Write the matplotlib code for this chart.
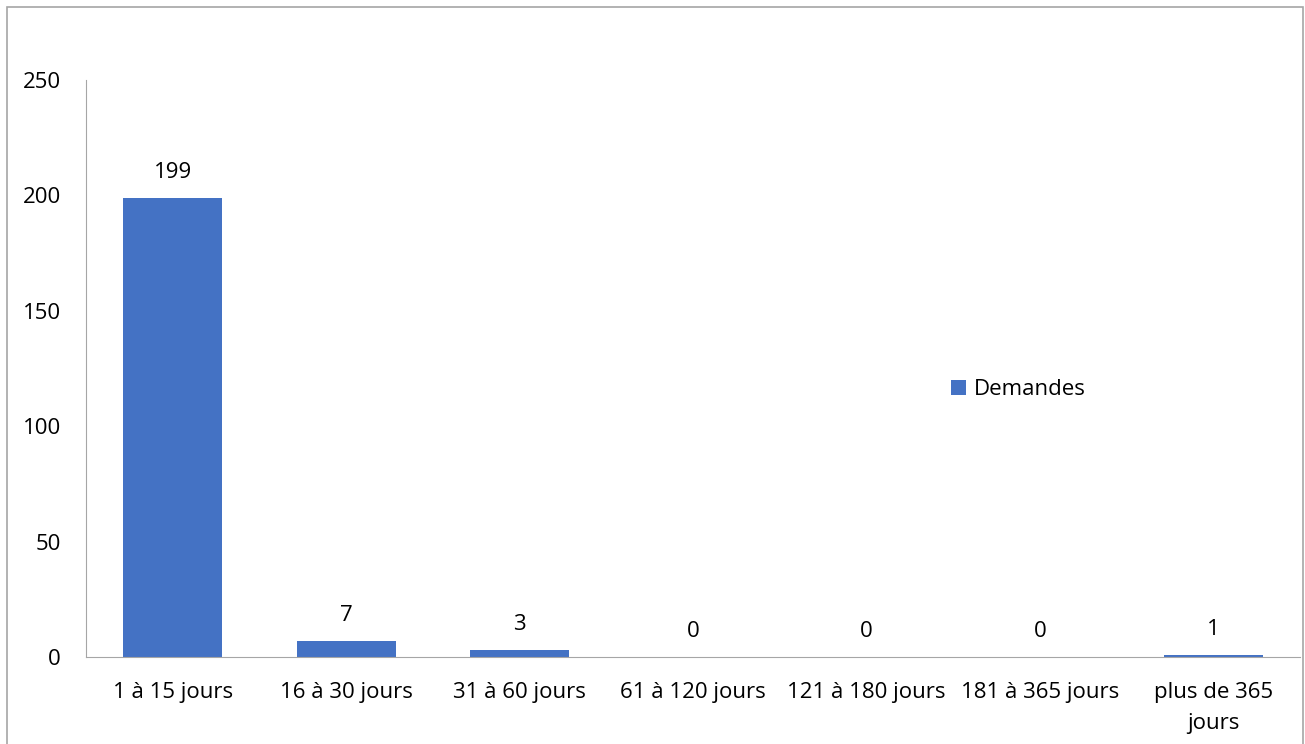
import numpy as np
import matplotlib.pyplot as plt
from matplotlib.patches import Rectangle

plt.rcParams["font.family"] = ["Open Sans", "DejaVu Sans"]

categories = ["1 à 15 jours", "16 à 30 jours", "31 à 60 jours", "61 à 120 jours",
              "121 à 180 jours", "181 à 365 jours", "plus de 365\njours"]
demandes = [199, 7, 3, 0, 0, 0, 1]

bar_color = "#4472c4"
fs = 16

fig = plt.figure(figsize=(13.05, 7.44), dpi=100)
fig.patches.append(Rectangle((7 / 1305, -0.05), 1296 / 1305, 1.05 - 7 / 744,
                             transform=fig.transFigure, fill=False,
                             edgecolor="#a6a6a6", linewidth=1.2))
ax = fig.add_axes([86 / 1305, 1 - 657 / 744, 1214 / 1305, 577 / 744])

x = np.arange(len(categories))
bars = ax.bar(x, demandes, width=0.57, color=bar_color, label="Demandes")
for xi, v in zip(x, demandes):
    ax.text(xi, v + 6.5, str(v), ha="center", va="bottom", fontsize=fs)

ax.set_xlim(-0.5, len(categories) - 0.5)
ax.set_ylim(0, 250)
ax.set_yticks(range(0, 251, 50))
ax.set_xticks(x)
ax.set_xticklabels(categories, fontsize=fs, linespacing=1.6, va="top")
ax.tick_params(axis="y", labelsize=fs, length=0, pad=18)
ax.tick_params(axis="x", length=0, pad=18)

for side in ["top", "right"]:
    ax.spines[side].set_visible(False)
ax.spines["left"].set_color("#a6a6a6")
ax.spines["bottom"].set_color("#a6a6a6")

ax.legend(loc="center left", bbox_to_anchor=(0.696, 0.463), frameon=False,
          fontsize=fs, handlelength=0.7, handleheight=0.7, handletextpad=0.35)

fig.savefig("out.png", dpi=100)
